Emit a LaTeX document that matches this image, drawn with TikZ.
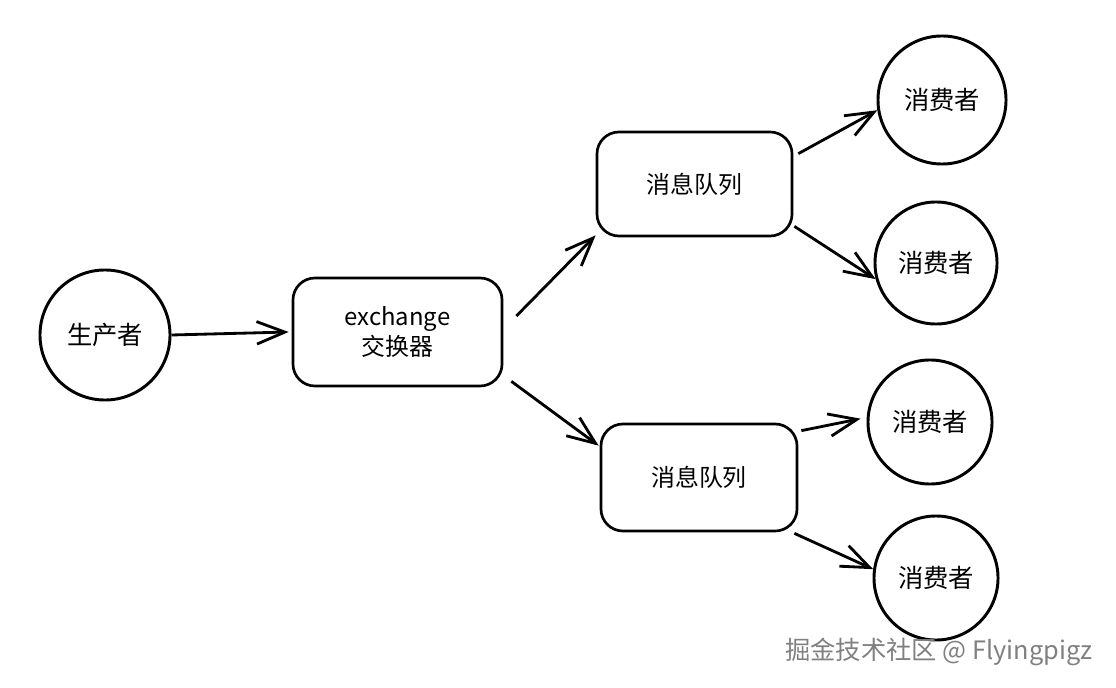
\documentclass[tikz,border=0pt]{standalone}
\usepackage{fontspec}
\setmainfont{Noto Sans CJK SC}
\usetikzlibrary{arrows.meta,calc}

\tikzset{
  queuebox/.style={rectangle,rounded corners=0.55cm,line width=1.9pt,draw,
                   font=\fontsize{17}{21}\selectfont},
  flow/.style={line width=2pt,-{Straight Barb[length=20pt,width=16pt,line width=2pt]}}
}

\begin{document}
\begin{tikzpicture}[x=0.025cm,y=-0.025cm]
        \useasboundingbox (0,0) rectangle (1116,688);

        \begin{scope}[every node/.style={circle,line width=2.1pt,draw,inner sep=0pt,
                      font=\fontsize{18}{21}\selectfont}]
            \node[minimum size=3.25cm] (prod) at (105,335) {生产者};
            \node[minimum size=3.2cm] (c1) at (942,100) {消费者};
            \node[minimum size=3.05cm] (c2) at (936,263) {消费者};
            \node[minimum size=3.1cm] (c3) at (930,422) {消费者};
            \node[minimum size=3.1cm] (c4) at (936,578) {消费者};
        \end{scope}

        \node[queuebox,minimum width=5.225cm,minimum height=2.7cm,align=center] (ex) at (397.5,332) {exchange\\交换器};
        \node[queuebox,minimum width=4.875cm,minimum height=2.6cm] (q1) at (694.5,184) {消息队列};
        \node[queuebox,minimum width=4.9cm,minimum height=2.675cm] (q2) at (699,477.5) {消息队列};

        \begin{scope}[every path/.style={flow}]
            \draw (prod.east) -- ($(ex.west)+(-3,0)$);
            \draw ($(ex.east)+(13,-16)$) -- ($(q1.south west)+(0,-2)$);
            \draw ($(ex.south east)+(8,-6)$) -- ($(q2.north west)+(-1,23)$);

            \draw ($(q1.north east)+(5,23)$) -- (c1.189);
            \draw ($(q1.south east)+(1,-11)$) -- (c2.195);
            \draw ($(q2.north east)+(3,8)$) -- ($(c3.177)+(-6,0)$);
            \draw ($(q2.south east)+(-4,1)$) -- (c4.172);
        \end{scope}

        \node[text=black!50,font=\fontsize{18}{21}\selectfont,anchor=east] (mark) at (1097,652) {掘金技术社区 @ Flyingpigz};
\end{tikzpicture}
\end{document}
